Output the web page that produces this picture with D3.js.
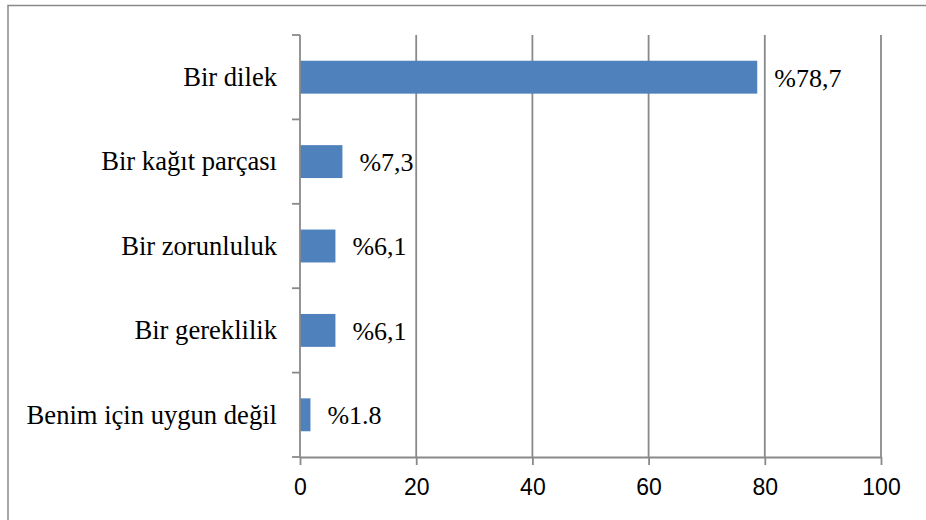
<!DOCTYPE html>
<html><head><meta charset="utf-8">
<script src="https://cdn.jsdelivr.net/npm/d3@7/dist/d3.min.js"></script>
<style>body{margin:0;background:#fff}svg{display:block}</style>
</head><body>
<svg id="c" width="926" height="520"></svg>
<script>
const categories = ["Bir dilek","Bir kağıt parçası","Bir zorunluluk","Bir gereklilik","Benim için uygun değil"];
const values = [78.7, 7.3, 6.1, 6.1, 1.8];
const valueLabels = ["%78,7","%7,3","%6,1","%6,1","%1.8"];
const xTicks = [0,20,40,60,80,100];

const svg = d3.select("#c");
const gray = "#898989";
svg.append("rect").attr("x",8).attr("y",5.5).attr("width",940).attr("height",540)
  .attr("fill","none").attr("stroke",gray).attr("stroke-width",1.5);

const x = d3.scaleLinear().domain([0,100]).range([300,881]);
const y = d3.scaleBand().domain(categories).range([35,457]).paddingInner(0.61).paddingOuter(0.305);

// gridlines
svg.append("g").selectAll("line").data(xTicks.filter(t=>t>0)).join("line")
  .attr("x1",d=>x(d)).attr("x2",d=>x(d)).attr("y1",35).attr("y2",457)
  .attr("stroke",gray).attr("stroke-width",1.8);

// bars
svg.append("g").selectAll("rect").data(values).join("rect")
  .attr("x",x(0)).attr("y",(d,i)=>y(categories[i]))
  .attr("width",d=>x(d)-x(0)).attr("height",y.bandwidth())
  .attr("fill","#4F81BD");

// x axis
const xAxis = d3.axisBottom(x).tickValues(xTicks).tickSize(8).tickSizeOuter(0).tickPadding(14);
const gx = svg.append("g").attr("transform","translate(0,457)").call(xAxis);
gx.select(".domain").attr("stroke",gray).attr("stroke-width",1.8);
gx.selectAll(".tick line").attr("stroke",gray).attr("stroke-width",1.8);
gx.selectAll("text").attr("font-family","'Liberation Sans', Arial, sans-serif").attr("font-size",23).attr("fill","#000");

// y axis (band boundaries ticks)
const bounds = d3.range(categories.length+1).map(i=>35 + i*(422/categories.length));
svg.append("line").attr("x1",300).attr("x2",300).attr("y1",35).attr("y2",457).attr("stroke",gray).attr("stroke-width",1.8);
svg.append("g").selectAll("line").data(bounds).join("line")
  .attr("x1",292).attr("x2",300).attr("y1",d=>d).attr("y2",d=>d)
  .attr("stroke",gray).attr("stroke-width",1.8);

// category labels
svg.append("g").selectAll("text").data(categories).join("text")
  .attr("x",277).attr("y",d=>y(d)+y.bandwidth()/2).attr("dy","0.33em")
  .attr("text-anchor","end").attr("font-family","'Liberation Serif','Times New Roman',serif")
  .attr("font-size",26.6).attr("fill","#000").text(d=>d);

// value labels
svg.append("g").selectAll("text").data(values).join("text")
  .attr("x",d=>x(d)+17).attr("y",(d,i)=>y(categories[i])+y.bandwidth()/2).attr("dy","0.36em")
  .attr("font-family","'Liberation Serif','Times New Roman',serif")
  .attr("font-size",26).attr("fill","#000").text((d,i)=>valueLabels[i]);
</script>
</body></html>
